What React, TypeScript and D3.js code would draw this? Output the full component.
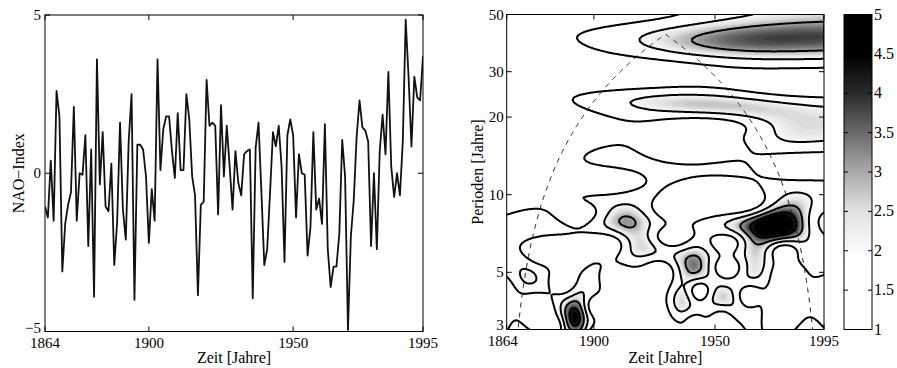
import React, { useMemo } from "react";
import * as d3 from "d3";

// ---------- data ----------
const startYear = 1864;
const endYear = 1995;
const naoIndex = [
  -1.05, -1.4, 0.4, -1.5, 2.6, 1.8, -3.1, -1.6, -1.0, -0.6,
  2.1, -1.5, 0.0, -0.05, 1.2, -2.3, 0.75, -3.9, 3.6, -0.35,
  1.3, -1.05, -1.2, 0.3, -2.9, -1.55, 1.6, -1.15, -2.1, 1.0,
  2.5, -4.0, 0.9, 0.9, 0.75, -0.1, -2.2, -0.5, -1.5, 3.6,
  0.1, 1.4, 1.8, 1.8, 0.7, -0.15, 1.9, 0.1, 0.1, 2.5,
  1.7, -0.1, -0.7, -3.85, -1.0, -0.9, 2.95, 1.5, 1.6, 1.5,
  -1.3, 2.15, -0.1, 1.5, 0.2, -1.15, 0.7, -0.3, -0.7, 0.6,
  0.7, 0.75, -3.95, 0.8, 1.6, -0.6, -2.9, -2.4, -0.6, 1.3,
  0.85, 1.5, 0.2, -2.8, 1.2, 1.7, 1.2, -1.4, 0.6, 0.0,
  -0.05, -2.6, -1.7, 1.3, -1.15, -0.8, -1.6, 1.55, -2.4, -3.6,
  -2.95, -2.95, -1.9, 1.05, -0.1, -4.95, -2.0, -0.85, 1.15, 2.3,
  1.45, 1.35, 1.0, -2.3, 0.0, -2.4, 0.7, 1.85, 0.6, 3.2,
  0.2, -0.75, 0.0, -0.7, 1.0, 4.85, 3.05, 0.85, 3.05, 2.4,
  2.3, 3.7,
];
const yearTicks = [1864, 1900, 1950, 1995];
const naoTicks = [-5, 0, 5];
const periodTicks = [3, 5, 10, 20, 30, 50];
const powerTicks = [1, 1.5, 2, 2.5, 3, 3.5, 4, 4.5, 5];
const contourLineLevels = [1, 2, 3, 4, 5, 6, 7, 8];
const periodRange = [3, 50];
const coiFactor = 0.64; // cone of influence: period per year of distance to edge
const morletOmega0 = 8;
const timeSmoothing = 0.3; // Gaussian time smoothing, in units of scale
const powerScale = 1.15;

const FONT = "'Liberation Serif', 'Times New Roman', serif";

function computeWaveletPower(values: number[], nx: number, ny: number, dt: number) {
  const n = values.length;
  const mean = d3.mean(values) as number;
  const xs = values.map((v) => v - mean);
  const variance = d3.mean(xs, (v) => v * v) as number;
  const w0 = morletOmega0;
  const ff = (4 * Math.PI) / (w0 + Math.sqrt(2 + w0 * w0));
  const lp0 = Math.log(periodRange[0]);
  const lp1 = Math.log(periodRange[1]);
  const out = new Array(nx * ny).fill(0);
  const row = new Array(nx).fill(0);
  const c = Math.pow(Math.PI, -0.25);
  for (let j = 0; j < ny; j++) {
    const p = Math.exp(lp0 + ((lp1 - lp0) * j) / (ny - 1));
    const s = p / ff;
    const norm2 = (c * c) / s;
    for (let i = 0; i < nx; i++) {
      const t = i * dt;
      let re = 0;
      let im = 0;
      for (let k = 0; k < n; k++) {
        const eta = (k - t) / s;
        if (eta < -6 || eta > 6) continue;
        const g = Math.exp(-0.5 * eta * eta) * xs[k];
        re += g * Math.cos(w0 * eta);
        im -= g * Math.sin(w0 * eta);
      }
      row[i] = ((re * re + im * im) * norm2) / variance;
    }
    const sig = Math.max(timeSmoothing * s, 1e-6);
    for (let i = 0; i < nx; i++) {
      let acc = 0;
      let wsum = 0;
      for (let m = 0; m < nx; m++) {
        const d = ((m - i) * dt) / sig;
        if (d < -4 || d > 4) continue;
        const w = Math.exp(-0.5 * d * d);
        acc += w * row[m];
        wsum += w;
      }
      out[i + j * nx] = (powerScale * acc) / wsum;
    }
  }
  return out;
}

export default function App() {
  const W = 897;
  const H = 368;
  const L = { left: 45, right: 423, top: 15, bottom: 331.5 };
  const R = { left: 506.7, right: 824, top: 14.5, bottom: 329.5 };
  const CB = { left: 844, right: 872, top: 14.5, bottom: 329.5 };

  const years = naoIndex.map((_, i) => startYear + i);
  const xL = d3.scaleLinear().domain([startYear, endYear]).range([L.left, L.right]);
  const yL = d3.scaleLinear().domain([-5, 5]).range([L.bottom, L.top]);
  const xR = d3.scaleLinear().domain([startYear, endYear]).range([R.left, R.right]);
  const yR = d3.scaleLog().domain(periodRange).range([R.bottom, R.top]);
  const yC = d3.scaleLinear().domain([1, 5]).range([CB.bottom, CB.top]);

  const gray = d3
    .scaleLinear<string>()
    .domain([1, 1.9, 2.5, 3, 3.5, 4, 4.5])
    .range(["#ffffff", "#ffffff", "#e2e2e2", "#aaaaaa", "#6a6a6a", "#2a2a2a", "#000000"])
    .clamp(true);

  const linePath = d3
    .line<number>()
    .x((_, i) => xL(years[i]))
    .y((d) => yL(d))(naoIndex) as string;

  const NX = 263;
  const NY = 130;
  const dt = (endYear - startYear) / (NX - 1);
  const lp0 = Math.log(periodRange[0]);
  const lp1 = Math.log(periodRange[1]);
  const dlog = (lp1 - lp0) / (NY - 1);

  const { fills, lines } = useMemo(() => {
    const power = computeWaveletPower(naoIndex, NX, NY, dt);
    const proj = d3.geoTransform({
      point: function (this: any, x: number, y: number) {
        const t = startYear + (x - 0.5) * dt;
        const p = Math.exp(lp0 + (y - 0.5) * dlog);
        this.stream.point(xR(t), yR(p));
      },
    });
    const path = d3.geoPath(proj);
    const fillLevels = d3.range(1.8, 9, 0.1);
    const fills = d3
      .contours()
      .size([NX, NY])
      .thresholds(fillLevels)(power)
      .map((c) => ({ d: path(c as any) || "", color: gray(c.value + 0.05) }));
    const lines = d3
      .contours()
      .size([NX, NY])
      .thresholds(contourLineLevels)(power)
      .map((c) => ({ d: path(c as any) || "", v: c.value }));
    return { fills, lines };
  }, []);

  const coiPts: [number, number][] = d3
    .range(startYear, endYear + 0.001, 0.25)
    .map((t) => [t, coiFactor * Math.min(t - startYear, endYear - t)] as [number, number])
    .filter((d) => d[1] > 2.4);
  const coiPath = d3
    .line<[number, number]>()
    .x((d) => xR(d[0]))
    .y((d) => yR(d[1]))(coiPts) as string;

  const gradStops = d3.range(1, 5.001, 0.05);
  const tick = 5;

  return (
    <svg
      width={W}
      height={H}
      style={{ position: "absolute", left: 0, top: 0, display: "block", background: "#fff" }}
      fontFamily={FONT}
    >
      <defs>
        <clipPath id="clipR">
          <rect x={R.left} y={R.top} width={R.right - R.left} height={R.bottom - R.top} />
        </clipPath>
        <clipPath id="clipL">
          <rect x={L.left} y={L.top - 2} width={L.right - L.left} height={L.bottom - L.top + 4} />
        </clipPath>
        <linearGradient id="cbGrad" x1="0" y1="1" x2="0" y2="0">
          {gradStops.map((v) => (
            <stop key={v} offset={(v - 1) / 4} stopColor={gray(v)} />
          ))}
        </linearGradient>
      </defs>

      {/* ---------------- left panel ---------------- */}
      <rect x={L.left} y={L.top} width={L.right - L.left} height={L.bottom - L.top} fill="none" stroke="#000" strokeWidth={1} />
      {yearTicks.map((y) => (
        <g key={"lx" + y}>
          <line x1={xL(y)} x2={xL(y)} y1={L.bottom} y2={L.bottom - tick} stroke="#000" />
          <line x1={xL(y)} x2={xL(y)} y1={L.top} y2={L.top + tick} stroke="#000" />
          <text x={xL(y)} y={L.bottom + 16} fontSize={15} textAnchor="middle">
            {y}
          </text>
        </g>
      ))}
      {naoTicks.map((v) => (
        <g key={"ly" + v}>
          <line x1={L.left} x2={L.left + tick} y1={yL(v)} y2={yL(v)} stroke="#000" />
          <line x1={L.right} x2={L.right - tick} y1={yL(v)} y2={yL(v)} stroke="#000" />
          <text x={L.left - 4} y={yL(v) + (v === -5 ? 1 : 5)} fontSize={15} textAnchor="end">
            {v < 0 ? "\u2212" + Math.abs(v) : v}
          </text>
        </g>
      ))}
      <path d={linePath} fill="none" stroke="#111" strokeWidth={1.8} strokeLinejoin="round" clipPath="url(#clipL)" />
      <text x={(L.left + L.right) / 2} y={363} fontSize={16} textAnchor="middle">
        Zeit [Jahre]
      </text>
      <text transform={`translate(24,${(L.top + L.bottom) / 2}) rotate(-90)`} fontSize={16} textAnchor="middle">
        NAO{"\u2212"}Index
      </text>

      {/* ---------------- right panel ---------------- */}
      <g clipPath="url(#clipR)">
        {fills.map((f, i) => (
          <path key={"f" + i} d={f.d} fill={f.color} stroke="none" />
        ))}
        {lines.map((l, i) => (
          <path key={"c" + i} d={l.d} fill="none" stroke="#000" strokeWidth={2} strokeLinejoin="round" />
        ))}
        <path d={coiPath} fill="none" stroke="#222" strokeWidth={1} strokeDasharray="5,5" />
      </g>
      <rect x={R.left} y={R.top} width={R.right - R.left} height={R.bottom - R.top} fill="none" stroke="#000" strokeWidth={1} />
      {yearTicks.map((y) => (
        <g key={"rx" + y}>
          <line x1={xR(y)} x2={xR(y)} y1={R.bottom} y2={R.bottom - tick} stroke="#000" />
          <line x1={xR(y)} x2={xR(y)} y1={R.top} y2={R.top + tick} stroke="#000" />
          <text x={xR(y) + (y === startYear ? -4 : 0)} y={R.bottom + 16} fontSize={15} textAnchor="middle">
            {y}
          </text>
        </g>
      ))}
      {periodTicks.map((p) => (
        <g key={"ry" + p}>
          <line x1={R.left} x2={R.left + tick} y1={yR(p)} y2={yR(p)} stroke="#000" />
          <line x1={R.right} x2={R.right - tick} y1={yR(p)} y2={yR(p)} stroke="#000" />
          <text x={R.left - 3} y={yR(p) + (p === 3 ? 0 : 5)} fontSize={15} textAnchor="end">
            {p}
          </text>
        </g>
      ))}
      <text x={(R.left + R.right) / 2} y={363} fontSize={16} textAnchor="middle">
        Zeit [Jahre]
      </text>
      <text transform={`translate(483,${(R.top + R.bottom) / 2}) rotate(-90)`} fontSize={16} textAnchor="middle">
        Perioden [Jahre]
      </text>

      {/* ---------------- colour bar ---------------- */}
      <rect x={CB.left} y={CB.top} width={CB.right - CB.left} height={CB.bottom - CB.top} fill="url(#cbGrad)" stroke="#000" strokeWidth={1} />
      {powerTicks.map((v) => (
        <g key={"cb" + v}>
          <line x1={CB.right} x2={CB.right - 4} y1={yC(v)} y2={yC(v)} stroke="#000" />
          <line x1={CB.left} x2={CB.left + 4} y1={yC(v)} y2={yC(v)} stroke="#000" />
          <text x={CB.right + 2} y={yC(v) + 5} fontSize={16}>
            {v}
          </text>
        </g>
      ))}
    </svg>
  );
}
